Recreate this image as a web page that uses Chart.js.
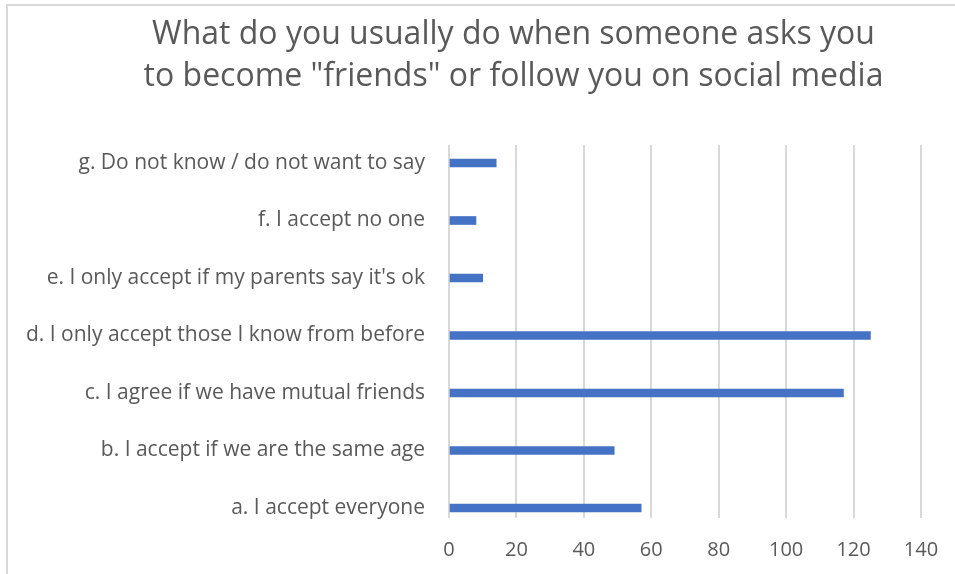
<!DOCTYPE html>
<html>
<head>
<meta charset="utf-8">
<title>Social media friend requests</title>
<script src="https://cdn.jsdelivr.net/npm/chart.js@4.4.1/dist/chart.umd.min.js"></script>
<style>
    html, body { margin: 0; padding: 0; background: #fff; overflow: hidden; }
    #frame {
        position: absolute; left: 6px; top: 4px; width: 1100px; height: 1000px;
        border-left: 2px solid #d9d9d9; border-top: 2px solid #d9d9d9;
    }
    /* canvas runs past the right edge so the title sits centred over the plot side */
    #wrap { position: absolute; left: 0; top: 0; width: 1007px; height: 574px; }
</style>
</head>
<body>
<div id="frame"></div>
<div id="wrap"><canvas id="answersChart"></canvas></div>
<script>
const titleLines = [
    'What do you usually do when someone asks you',
    'to become "friends" or follow you on social media'
];
// answers, listed bottom to top
const categories = [
    'a. I accept everyone',
    'b. I accept if we are the same age',
    'c. I agree if we have mutual friends',
    'd. I only accept those I know from before',
    "e. I only accept if my parents say it's ok",
    'f. I accept no one',
    'g. Do not know / do not want to say'
];
const responses = [57, 49, 117, 125, 10, 8, 14];
const xMin = 0;
const xMax = 140;
const xStep = 20;

const textColor = '#595959';
Chart.defaults.font.family = "'Open Sans', sans-serif";
Chart.defaults.color = textColor;

let ctx = document.getElementById('answersChart').getContext('2d');
let answersChart = new Chart(ctx, {
    type: 'bar',
    data: {
        datasets: [{
            label: 'Answers',
            // y is the answer's position in the categories list
            data: responses.map((v, i) => ({ x: v, y: i })),
            backgroundColor: '#4472C4',
            borderWidth: 0,
            barThickness: 8
        }]
    },
    options: {
        indexAxis: 'y',
        responsive: true,
        maintainAspectRatio: false,
        animation: false,
        layout: {
            padding: { left: 20, right: 0, top: 0, bottom: 12 }
        },
        plugins: {
            legend: { display: false },
            tooltip: { enabled: false },
            title: {
                display: true,
                text: titleLines,
                color: textColor,
                font: { size: 32, weight: 'normal', lineHeight: 1.3125 },
                padding: { top: 14, bottom: 47 }
            }
        },
        scales: {
            x: {
                type: 'linear',
                min: xMin,
                max: xMax,
                grid: { color: '#d9d9d9', lineWidth: 2, drawTicks: false },
                border: { display: false },
                ticks: {
                    stepSize: xStep,
                    padding: 20,
                    color: textColor,
                    font: { size: 20 }
                },
                afterFit: (scale) => {
                    scale.height = 44;
                    scale.paddingRight = 86;
                }
            },
            y: {
                type: 'linear',
                bounds: 'data',
                offset: false,
                min: -0.174,
                max: 6.313,
                grid: { display: false, drawTicks: false },
                border: { display: false },
                ticks: {
                    autoSkip: false,
                    padding: 24,
                    color: textColor,
                    font: { size: 21 },
                    callback: (value) => categories[value]
                },
                // one tick per answer
                afterBuildTicks: (scale) => {
                    scale.ticks = categories.map((c, i) => ({ value: i }));
                },
                afterFit: (scale) => { scale.width = 429; }
            }
        }
    }
});
</script>
</body>
</html>
